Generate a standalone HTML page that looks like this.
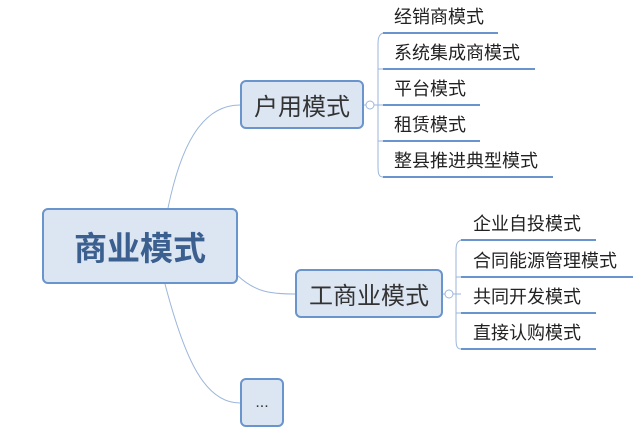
<!DOCTYPE html>
<html><head><meta charset="utf-8"><style>
body{margin:0;width:640px;height:433px;background:#fff;overflow:hidden;position:relative;font-family:"Liberation Sans","Noto Sans CJK SC",sans-serif}
.b{position:absolute;box-sizing:border-box;background:#dce6f3;border:2px solid #6a94cc;border-radius:6px;display:flex;align-items:center;justify-content:center;color:#333}
.t{position:absolute;font-size:18px;color:#222;line-height:20px;white-space:nowrap}
svg{position:absolute;left:0;top:0}
</style></head><body>
<svg width="640" height="433" fill="none" stroke="#9bb6dc" stroke-width="1">
<path d="M168 208 C180 150,200 105,240 105"/>
<path d="M237 275 C255 292,270 294,295 294"/>
<path d="M165 284 C185 360,205 403,240 403"/>
<circle cx="370" cy="105" r="4"/>
<circle cx="449" cy="294" r="4"/>
<path d="M364 105 H366 M374 105 H383"/>
<path d="M443 294 H445 M453 294 H461"/>
<path d="M383 33 C378 35,378 40,378 45 V165 C378 172,378 177,383 177"/>
<path d="M461 240 C456 242,456 246,456 252 V337 C456 344,456 349,461 349"/>
<path d="M378 69 C378 69,379 69,383 69 M378 141 C379 141,380 141,383 141"/>
<path d="M456 277 H461 M456 313 H461"/>
<g stroke="#6a94cc" stroke-width="2">
<path d="M383 33 H498 M383 69 H535 M383 105 H480 M383 141 H480 M383 177 H553"/>
<path d="M461 240 H596 M461 277 H633 M461 313 H596 M461 349 H596"/>
</g>
</svg>
<div class="b" style="left:42px;top:208px;width:196px;height:76px;font-size:33px;font-weight:bold;color:#3b5f8f">商业模式</div>
<div class="b" style="left:240px;top:80px;width:124px;height:49px;font-size:24px">户用模式</div>
<div class="b" style="left:295px;top:269px;width:148px;height:49px;font-size:24px">工商业模式</div>
<div class="b" style="left:240px;top:378px;width:44px;height:49px;font-size:16px">...</div>
<div class="t" style="left:394px;top:7px">经销商模式</div>
<div class="t" style="left:394px;top:43px">系统集成商模式</div>
<div class="t" style="left:394px;top:79px">平台模式</div>
<div class="t" style="left:394px;top:115px">租赁模式</div>
<div class="t" style="left:394px;top:151px">整县推进典型模式</div>
<div class="t" style="left:473px;top:214px">企业自投模式</div>
<div class="t" style="left:473px;top:251px">合同能源管理模式</div>
<div class="t" style="left:473px;top:287px">共同开发模式</div>
<div class="t" style="left:473px;top:323px">直接认购模式</div>
</body></html>
